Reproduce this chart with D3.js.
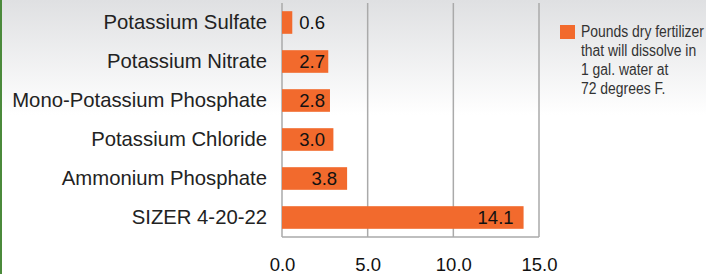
<!DOCTYPE html>
<html lang="en">
<head>
<meta charset="UTF-8">
<title>Fertilizer Solubility</title>
<style>
    html, body {
        margin: 0;
        padding: 0;
    }
    body {
        width: 706px;
        height: 274px;
        overflow: hidden;
        font-family: "Liberation Sans", Arial, sans-serif;
    }
    .bar {
        fill: #f26a2d;
    }
    .grid line {
        stroke: #aaaaaa;
        stroke-width: 1.5;
    }
</style>
</head>
<body>
<svg id="chart"></svg>

<script src="https://d3js.org/d3.v7.min.js"></script>
<script>
    // data
    const categories = ["Potassium Sulfate", "Potassium Nitrate", "Mono-Potassium Phosphate",
        "Potassium Chloride", "Ammonium Phosphate", "SIZER 4-20-22"];
    const values = [0.6, 2.7, 2.8, 3.0, 3.8, 14.1];
    const xTicks = [0, 5, 10, 15];
    const legendLines = ["Pounds dry fertilizer", "that will dissolve in", "1 gal. water at", "72 degrees F."];

    const w = 706, h = 274;
    const plotLeft = 282, plotRight = 539, plotTop = 3, plotBottom = 237;

    const svg = d3.select("#chart")
        .attr("width", w)
        .attr("height", h);

    // background gradient
    const grad = svg.append("defs").append("linearGradient")
        .attr("id", "bg")
        .attr("x1", 0).attr("y1", 0).attr("x2", 0).attr("y2", 1);
    grad.append("stop").attr("offset", "0%").attr("stop-color", "#dfe0e2");
    grad.append("stop").attr("offset", "42%").attr("stop-color", "#ffffff");
    grad.append("stop").attr("offset", "100%").attr("stop-color", "#ffffff");

    svg.append("rect")
        .attr("width", w).attr("height", h)
        .attr("fill", "url(#bg)");

    // green edge on the left
    svg.append("rect")
        .attr("x", 0).attr("y", 0)
        .attr("width", 2).attr("height", h)
        .attr("fill", "#4b8a3b");

    const x = d3.scaleLinear().domain([0, 15]).range([plotLeft, plotRight]);
    const y = d3.scaleBand()
        .domain(categories)
        .range([plotTop, plotBottom])
        .paddingInner(0.42)
        .paddingOuter(0.21);

    // vertical grid lines
    svg.append("g")
        .attr("class", "grid")
        .selectAll("line")
        .data(xTicks)
        .enter()
        .append("line")
        .attr("x1", d => x(d)).attr("x2", d => x(d))
        .attr("y1", plotTop).attr("y2", plotBottom);

    // bottom frame line
    svg.append("line")
        .attr("x1", x(0)).attr("x2", x(15))
        .attr("y1", plotBottom).attr("y2", plotBottom)
        .attr("stroke", "#aaaaaa")
        .attr("stroke-width", 1.5);

    // bars
    svg.selectAll(".bar")
        .data(values)
        .enter()
        .append("rect")
        .attr("class", "bar")
        .attr("x", x(0))
        .attr("y", (d, i) => y(categories[i]))
        .attr("width", d => x(d) - x(0))
        .attr("height", y.bandwidth());

    // value labels
    svg.selectAll(".val")
        .data(values)
        .enter()
        .append("text")
        .attr("class", "val")
        .attr("x", d => Math.max(x(d) - 10, x(0) + 43))
        .attr("y", (d, i) => y(categories[i]) + y.bandwidth() / 2)
        .attr("dy", "0.36em")
        .attr("text-anchor", "end")
        .attr("font-size", 18.5)
        .attr("fill", "#111")
        .text(d => d.toFixed(1));

    // category axis
    const yAxis = d3.axisLeft(y).tickSize(0).tickPadding(15);
    const gy = svg.append("g")
        .attr("transform", "translate(" + x(0) + ",0)")
        .call(yAxis);
    gy.select(".domain").remove();
    gy.selectAll("text")
        .attr("font-size", 20.3)
        .attr("font-family", "Liberation Sans, Arial, sans-serif")
        .attr("fill", "#222");

    // value axis
    const xAxis = d3.axisBottom(x).tickValues(xTicks).tickSize(0).tickPadding(21)
        .tickFormat(d3.format(".1f"));
    const gx = svg.append("g")
        .attr("transform", "translate(0," + plotBottom + ")")
        .call(xAxis);
    gx.select(".domain").remove();
    gx.selectAll("text")
        .attr("font-size", 18.5)
        .attr("font-family", "Liberation Sans, Arial, sans-serif")
        .attr("fill", "#111");

    // legend (narrow face imitated by squeezing the text)
    const legend = svg.append("g").attr("transform", "translate(560,25)");
    legend.append("rect")
        .attr("width", 15).attr("height", 14)
        .attr("fill", "#f26a2d");
    legend.append("text")
        .attr("transform", "translate(21,12) scale(0.87,1)")
        .attr("font-size", 16)
        .attr("fill", "#333")
        .selectAll("tspan")
        .data(legendLines)
        .enter()
        .append("tspan")
        .attr("x", 0)
        .attr("dy", (d, i) => i === 0 ? 0 : 19)
        .text(d => d);
</script>
</body>
</html>
